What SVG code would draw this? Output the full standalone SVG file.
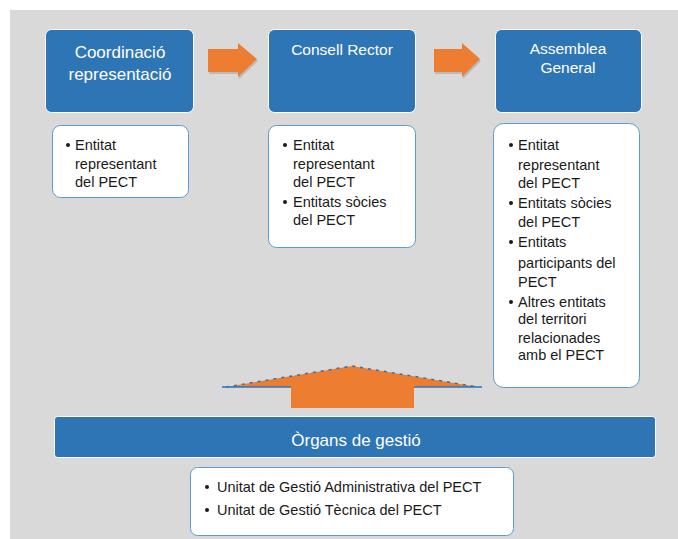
<svg xmlns="http://www.w3.org/2000/svg" width="678" height="539" viewBox="0 0 678 539">
<style>
.hdr{fill:#2e75b6;stroke:#ffffff;stroke-width:1}
.hdt{font-family:"Liberation Sans",Arial,sans-serif;fill:#ffffff;text-anchor:middle}
.card{fill:#ffffff;stroke:#5b9bd5;stroke-width:1}
.bt{font-family:"Liberation Sans",Arial,sans-serif;font-size:14.5px;fill:#1a1a1a}
.bul{fill:#1a1a1a}
.arr{fill:#ed7d31}
.shadow{fill:#a6a6a6;opacity:0.6}
</style>
<rect x="0" y="0" width="678" height="539" fill="#ffffff"/>
<rect x="10" y="10" width="668" height="529" fill="#d9d9d9"/>

<g id="connectors">
  <polygon class="shadow" points="209,51 239,51 239,45 258,61 239,79 239,74 209,74"/>
  <polygon class="arr" points="208,49 238,49 238,43 257,59 238,77 238,72 208,72"/>
  <polygon class="shadow" points="435,51 463,51 463,45 481,61 463,79 463,74 435,74"/>
  <polygon class="arr" points="434,49 462,49 462,43 480,59 462,77 462,72 434,72"/>
  <polygon class="arr" points="226,387 352,366 478,387 414,387 414,408 291,408 291,387"/>
  <path d="M226,387 L352,366 L478,387" fill="none" stroke="#2e75b6" stroke-width="1.5" stroke-dasharray="3,5"/>
  <path d="M222,387 L291,387 M414,387 L482,387" fill="none" stroke="#2e75b6" stroke-width="1.5"/>
</g>

<g id="coordinacio">
  <rect class="hdr" x="45.5" y="29.5" width="148" height="83" rx="6"/>
  <text class="hdt" x="120" y="58" font-size="17">Coordinació</text>
  <text class="hdt" x="120" y="80" font-size="17">representació</text>
</g>
<g id="consell">
  <rect class="hdr" x="268.5" y="29.5" width="147" height="83" rx="6"/>
  <text class="hdt" x="342" y="55" font-size="15.5">Consell Rector</text>
</g>
<g id="assemblea">
  <rect class="hdr" x="495.5" y="29.5" width="146" height="83" rx="6"/>
  <text class="hdt" x="568" y="54" font-size="15.5">Assemblea</text>
  <text class="hdt" x="568" y="73" font-size="15.5">General</text>
</g>

<g id="coordinacio-list">
  <rect class="card" x="52.5" y="125.5" width="136" height="72" rx="8"/>
  <circle class="bul" cx="68" cy="145" r="2"/>
  <text class="bt" x="75" y="150">Entitat</text>
  <text class="bt" x="75" y="169">representant</text>
  <text class="bt" x="75" y="187">del PECT</text>
</g>
<g id="consell-list">
  <rect class="card" x="268.5" y="125.5" width="147" height="122" rx="8"/>
  <circle class="bul" cx="285" cy="145" r="2"/>
  <text class="bt" x="293" y="150">Entitat</text>
  <text class="bt" x="293" y="169">representant</text>
  <text class="bt" x="293" y="187">del PECT</text>
  <circle class="bul" cx="285" cy="202" r="2"/>
  <text class="bt" x="293" y="207">Entitats sòcies</text>
  <text class="bt" x="293" y="225">del PECT</text>
</g>
<g id="assemblea-list">
  <rect class="card" x="493.5" y="123.5" width="146" height="264" rx="10"/>
  <circle class="bul" cx="511" cy="145" r="2"/>
  <text class="bt" x="518" y="150">Entitat</text>
  <text class="bt" x="518" y="170">representant</text>
  <text class="bt" x="518" y="188">del PECT</text>
  <circle class="bul" cx="511" cy="203" r="2"/>
  <text class="bt" x="518" y="208">Entitats sòcies</text>
  <text class="bt" x="518" y="227">del PECT</text>
  <circle class="bul" cx="511" cy="242" r="2"/>
  <text class="bt" x="518" y="247">Entitats</text>
  <text class="bt" x="518" y="268">participants del</text>
  <text class="bt" x="518" y="287">PECT</text>
  <circle class="bul" cx="511" cy="302" r="2"/>
  <text class="bt" x="518" y="307">Altres entitats</text>
  <text class="bt" x="518" y="324">del territori</text>
  <text class="bt" x="518" y="343">relacionades</text>
  <text class="bt" x="518" y="360">amb el PECT</text>
</g>

<g id="organs">
  <rect class="hdr" x="54.5" y="416.5" width="601" height="41" rx="3"/>
  <text class="hdt" x="356" y="446" font-size="17">Òrgans de gestió</text>
</g>
<g id="organs-list">
  <rect class="card" x="190.5" y="467.5" width="323" height="68" rx="7"/>
  <circle class="bul" cx="207" cy="487" r="2"/>
  <text class="bt" x="217" y="492">Unitat de Gestió Administrativa del PECT</text>
  <circle class="bul" cx="207" cy="510" r="2"/>
  <text class="bt" x="217" y="515">Unitat de Gestió Tècnica del PECT</text>
</g>
</svg>
